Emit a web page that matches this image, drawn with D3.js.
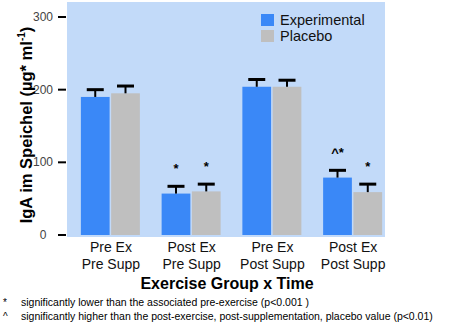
<!DOCTYPE html>
<html>
<head>
<meta charset="utf-8">
<script src="https://cdn.jsdelivr.net/npm/d3@7"></script>
<style>
  body { margin: 0; background: #fff; }
  svg { display: block; font-family: "Liberation Sans", Arial, sans-serif; }
</style>
</head>
<body>
<svg width="453" height="328"></svg>
<script>
const groups = ["Pre Ex|Pre Supp", "Post Ex|Pre Supp", "Pre Ex|Post Supp", "Post Ex|Post Supp"];
const series = ["Experimental", "Placebo"];
const experimental = [190, 57, 204, 79];
const experimentalErr = [10, 10, 10, 10];
const placebo = [195, 60, 204, 59];
const placeboErr = [10, 10, 9, 11];
const marks = [["", ""], ["*", "*"], ["", ""], ["^*", "*"]];
const yTicks = [0, 100, 200, 300];
const footnotes = [
  ["*", "significantly lower than the associated pre-exercise (p<0.001 )"],
  ["^", "significantly higher than the post-exercise, post-supplementation, placebo value (p<0.01)"]
];

const colors = { Experimental: "#3a88f7", Placebo: "#bfbfbf" };

const svg = d3.select("svg");

const y = d3.scaleLinear().domain([0, 300]).range([235, 17]);
const x0 = d3.scaleBand().domain(groups).range([70.5, 393.5]);
const x1 = d3.scaleBand().domain(series).range([-30, 29]).paddingInner(0.05);

// plot background
svg.append("rect")
  .attr("x", 67).attr("y", 2)
  .attr("width", 318).attr("height", 235)
  .attr("fill", "#c2daf9");

// y axis ticks
const yAxis = svg.append("g");
yAxis.selectAll("line").data(yTicks).join("line")
  .attr("x1", 58).attr("x2", 66)
  .attr("y1", d => y(d)).attr("y2", d => y(d))
  .attr("stroke", "#000").attr("stroke-width", 2);
yAxis.selectAll("text").data(yTicks).join("text")
  .attr("x", 43).attr("y", d => y(d) + 4)
  .attr("text-anchor", "middle")
  .attr("font-size", 12)
  .attr("fill", "#444")
  .text(d => d);

const data = groups.map((g, i) => ({
  group: g,
  values: [
    { key: "Experimental", v: experimental[i], e: experimentalErr[i], m: marks[i][0] },
    { key: "Placebo", v: placebo[i], e: placeboErr[i], m: marks[i][1] }
  ]
}));

const gGroup = svg.append("g").selectAll("g").data(data).join("g")
  .attr("transform", d => `translate(${x0(d.group) + x0.bandwidth() / 2},0)`);

const bar = gGroup.selectAll("g").data(d => d.values).join("g");

bar.append("rect")
  .attr("x", d => x1(d.key))
  .attr("y", d => y(d.v))
  .attr("width", x1.bandwidth())
  .attr("height", d => y(0) - y(d.v))
  .attr("fill", d => colors[d.key]);

// error bars
bar.append("line")
  .attr("x1", d => x1(d.key) + x1.bandwidth() / 2)
  .attr("x2", d => x1(d.key) + x1.bandwidth() / 2)
  .attr("y1", d => y(d.v))
  .attr("y2", d => y(d.v + d.e))
  .attr("stroke", "#000").attr("stroke-width", 2);
bar.append("line")
  .attr("x1", d => x1(d.key) + x1.bandwidth() / 2 - 8.5)
  .attr("x2", d => x1(d.key) + x1.bandwidth() / 2 + 8.5)
  .attr("y1", d => y(d.v + d.e))
  .attr("y2", d => y(d.v + d.e))
  .attr("stroke", "#000").attr("stroke-width", 3);

// significance marks
bar.append("text")
  .attr("x", d => x1(d.key) + x1.bandwidth() / 2)
  .attr("y", d => y(d.v + d.e) - 13)
  .attr("text-anchor", "middle")
  .attr("font-size", 13)
  .attr("font-weight", "bold")
  .text(d => d.m);

// category labels
gGroup.append("text")
  .attr("text-anchor", "middle")
  .attr("font-size", 14)
  .attr("fill", "#111")
  .selectAll("tspan").data(d => d.group.split("|")).join("tspan")
  .attr("x", 0)
  .attr("y", (d, i) => 252 + i * 17)
  .text(d => d);

// axis titles
svg.append("text")
  .attr("x", 227).attr("y", 289)
  .attr("text-anchor", "middle")
  .attr("font-size", 16).attr("font-weight", "bold")
  .text("Exercise Group x Time");

const yTitle = svg.append("text")
  .attr("transform", "translate(32,125) rotate(-90)")
  .attr("text-anchor", "middle")
  .attr("font-size", 16.5).attr("font-weight", "bold");
yTitle.append("tspan").text("IgA im Speichel (µg* ml");
yTitle.append("tspan").attr("font-size", 10).attr("dy", -7).text("-1");
yTitle.append("tspan").attr("dy", 7).text(")");

// legend
const legend = svg.append("g").selectAll("g").data(series).join("g")
  .attr("transform", (d, i) => `translate(261,${14 + i * 16})`);
legend.append("rect")
  .attr("width", 13).attr("height", 12)
  .attr("fill", d => colors[d]);
legend.append("text")
  .attr("x", 19).attr("y", 11)
  .attr("font-size", 14.5)
  .attr("fill", "#111")
  .text(d => d);

// footnotes
const foot = svg.append("g").selectAll("g").data(footnotes).join("g")
  .attr("transform", (d, i) => `translate(0,${306 + i * 14})`);
foot.append("text")
  .attr("x", 3).attr("y", 0)
  .attr("font-size", 10)
  .text(d => d[0]);
foot.append("text")
  .attr("x", 21).attr("y", 0)
  .attr("font-size", 10.5)
  .text(d => d[1]);
</script>
</body>
</html>
